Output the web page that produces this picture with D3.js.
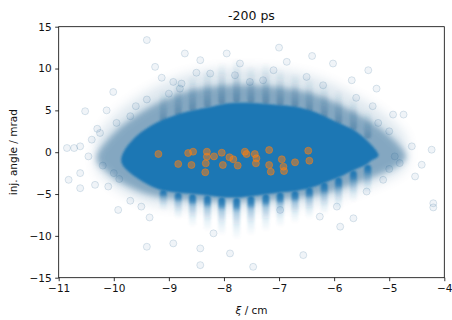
<!DOCTYPE html>
<html><head><meta charset="utf-8">
<script src="https://cdn.jsdelivr.net/npm/d3@7"></script>
<style>
body{margin:0;background:#fff}
svg{display:block}
text{font-family:"DejaVu Sans",sans-serif;fill:#111}
</style>
</head><body>
<svg id="chart" width="452" height="320"></svg>
<script>
// ---------- data ----------
const titleText = "-200 ps";
const xLabel = "ξ / cm";
const yLabel = "inj. angle / mrad";
const xTicks = [-11, -10, -9, -8, -7, -6, -5, -4];
const yTicks = [-15, -10, -5, 0, 5, 10, 15];

// saturated (fully overlapped) region of the blue scatter
const coreXi     = [-9.86, -9.8, -9.68, -9.5, -9.2, -8.9, -8.55, -8.25, -7.98, -7.7, -7.3, -6.95, -6.67, -6.35, -6.08, -5.85, -5.66, -5.45, -5.3, -5.2];
const coreTop    = [-0.6, 0.3, 1.3, 2.4, 3.6, 4.4, 5.0, 5.4, 5.8, 5.9, 5.8, 5.6, 5.4, 4.8, 4.0, 3.3, 2.7, 1.7, 0.7, -0.2];
const coreBottom = [-1.2, -1.9, -2.6, -3.4, -4.4, -4.8, -5.0, -5.2, -5.4, -5.4, -5.1, -4.8, -4.6, -4.1, -3.4, -2.8, -2.2, -1.6, -0.9, -0.5];

// semi-dense halo of the blue scatter
const haloXi     = [-10.3, -10.15, -9.95, -9.7, -9.4, -9.1, -8.8, -8.45, -7.85, -7.25, -6.65, -6.3, -6.0, -5.7, -5.4, -5.15, -4.95, -4.8, -4.7];
const haloTop    = [-0.2, 1.2, 2.6, 3.9, 5.2, 6.2, 7.0, 7.6, 8.0, 7.9, 7.4, 6.8, 6.0, 5.0, 3.9, 2.8, 1.7, 0.7, -0.3];
const haloBottom = [-1.2, -2.2, -3.3, -4.2, -5.0, -5.4, -5.6, -5.8, -5.9, -5.7, -5.4, -5.1, -4.6, -3.9, -3.2, -2.6, -2.0, -1.4, -0.8];

// vertical streaks (columns of ξ) above and below the dense core
const streakXi       = [-9.10, -8.83, -8.57, -8.30, -8.04, -7.77, -7.51, -7.24, -6.98, -6.71, -6.45, -6.18, -5.92, -5.65, -5.39];
const streakLowStart = [-4.5, -4.8, -5.0, -5.15, -5.35, -5.4, -5.2, -5.0, -4.8, -4.6, -4.2, -3.6, -3.0, -2.2, -1.5];
const streakLowEnd   = [-7.0, -8.0, -9.0, -9.5, -10.0, -10.5, -10.0, -9.5, -9.0, -8.5, -8.0, -7.5, -7.0, -6.0, -5.0];
const streakUpStart  = [3.5, 4.3, 4.9, 5.3, 5.7, 5.9, 5.8, 5.7, 5.5, 5.3, 4.7, 4.0, 3.3, 2.6, 1.6];
const streakUpEnd    = [7.5, 8.8, 9.3, 10.0, 10.8, 11.2, 10.4, 10.8, 10.0, 9.5, 9.0, 8.2, 7.5, 6.5, 5.0];

// individually visible faint blue points in the outskirts
const sparseXi    = [-9.25, -9.13, -8.92, -8.77, -10.01, -10.52, -10.13, -9.95, -10.25, -10.61, -10.85, -10.72, -10.46, -10.61, -10.82, -10.61, -10.34, -10.10, -9.92,
                     -7.95, -7.71, -7.53, -7.29, -6.86, -6.02, -5.68, -5.38, -5.23, -8.25, -8.43, -9.40, -8.71, -7.0, -6.4,
                     -4.93, -4.74, -4.59, -4.23, -4.41, -4.53, -4.81, -5.11, -5.41, -5.65, -5.89, -5.95, -4.20, -4.20,
                     -9.40, -8.92, -8.43, -8.43, -8.19, -7.89, -7.47, -6.98, -6.56, -6.26, -9.7, -9.5, -9.35,
                     -9.6, -9.4, -9.7, -10.3, -10.4, -10.2, -10.0, -9.9, -5.0, -5.2, -4.9, -5.0, -5.3, -5.6, -6.2, -6.5, -7.1, -7.8, -8.5, -8.8, -9.0];
const sparseAngle = [10.2, 8.9, 8.4, 8.2, 7.2, 4.9, 5.0, 3.5, 2.3, 0.7, 0.5, 0.5, -0.5, -2.5, -3.3, -4.3, -3.9, -4.1, -6.9,
                     11.8, 10.6, 8.4, 8.6, 10.8, 10.6, 8.6, 9.8, 7.6, 9.4, 11.0, 13.4, 11.8, 12.5, 11.5,
                     4.5, 4.5, 0.7, 0.3, -1.5, -2.9, -1.3, -3.3, -4.7, -7.9, -8.9, -6.5, -6.1, -6.6,
                     -11.3, -10.9, -13.5, -11.5, -9.7, -12.1, -13.7, -6.9, -12.3, -7.7, -5.8, -6.5, -7.8,
                     5.5, 6.3, 4.3, 2.8, 1.5, -1.6, -2.5, -3.2, 2.5, 3.5, -0.5, -2.0, 5.5, 6.5, 8.0, 9.0, 9.8, 9.2, 9.5, 7.6, 7.0];

// orange (injected) points
const injXi    = [-9.19, -8.83, -8.59, -8.56, -8.31, -8.31, -8.33, -8.34, -8.04, -8.02, -7.83, -7.62, -7.59, -7.44, -7.41, -7.42, -7.18, -7.15, -7.18,
                  -6.95, -6.92, -6.91, -6.71, -6.47, -6.45, -8.18, -7.90, -7.75, -8.65];
const injAngle = [-0.22, -1.41, -1.53, 0.06, 0.06, -0.54, -1.33, -2.40, -0.06, -1.53, -0.85, 0.06, -0.22, -0.22, -0.73, -1.33, -1.53, -2.33, 0.26,
                  -0.85, -1.73, -2.25, -1.21, 0.18, -1.02, -0.5, -0.6, -1.6, -0.1];

// ---------- drawing ----------
const blue = "#1f77b4", haze = "#2f6a96", orange = "#ff7f0e";
const svg = d3.select("#chart");
const L = 58.7, R = 444.3, T = 26.7, B = 277.7;
const x = d3.scaleLinear().domain([-11, -4]).range([L, R]);
const y = d3.scaleLinear().domain([-15, 15]).range([B, T]);
const fmt = d => d < 0 ? "\u2212" + Math.abs(d) : String(d);

const defs = svg.append("defs");
defs.append("clipPath").attr("id", "clip").append("rect")
  .attr("x", L).attr("y", T).attr("width", R - L).attr("height", B - T);
[["b1", 0.8], ["b2", 1.5], ["b3", 3], ["b6", 6]].forEach(([id, s]) => {
  defs.append("filter").attr("id", id).attr("x", "-30%").attr("y", "-30%").attr("width", "160%").attr("height", "160%")
    .append("feGaussianBlur").attr("stdDeviation", s);
});
const gDown = defs.append("linearGradient").attr("id", "gDown").attr("x1", 0).attr("y1", 0).attr("x2", 0).attr("y2", 1);
[[0, 1], [0.2, 0.85], [0.35, 0.35], [0.7, 0.1], [1, 0]].forEach(([o, a]) =>
  gDown.append("stop").attr("offset", o).attr("stop-color", blue).attr("stop-opacity", a));
const gUp = defs.append("linearGradient").attr("id", "gUp").attr("x1", 0).attr("y1", 1).attr("x2", 0).attr("y2", 0);
[[0, 0.45], [0.3, 0.25], [0.7, 0.08], [1, 0]].forEach(([o, a]) =>
  gUp.append("stop").attr("offset", o).attr("stop-color", haze).attr("stop-opacity", a));

const plot = svg.append("g").attr("clip-path", "url(#clip)");

function envelope(xs, tops, bots) {
  const pts = xs.map((v, i) => [x(v), y(tops[i])]);
  for (let i = xs.length - 1; i >= 0; i--) pts.push([x(xs[i]), y(bots[i])]);
  return d3.line().curve(d3.curveCatmullRomClosed.alpha(0.5))(pts);
}

// outer faint fringe
plot.append("path").attr("d", envelope(haloXi, haloTop.map(v => v + 2.0), haloBottom.map(v => v - 1.0)))
  .attr("fill", haze).attr("opacity", 0.16).attr("filter", "url(#b6)");
// halo
plot.append("path").attr("d", envelope(haloXi, haloTop, haloBottom))
  .attr("fill", haze).attr("opacity", 0.5).attr("filter", "url(#b3)");

// streaks
const sw = 7;
plot.selectAll("rect.up").data(streakXi).join("rect").attr("class", "up")
  .attr("x", d => x(d) - sw / 2).attr("width", sw)
  .attr("y", (d, i) => y(streakUpEnd[i]))
  .attr("height", (d, i) => y(streakUpStart[i]) - y(streakUpEnd[i]))
  .attr("rx", 3.5).attr("fill", "url(#gUp)").attr("filter", "url(#b1)");

// sparse faint points
plot.selectAll("circle.sp").data(sparseXi).join("circle").attr("class", "sp")
  .attr("cx", d => x(d)).attr("cy", (d, i) => y(sparseAngle[i])).attr("r", 3.5)
  .attr("fill", haze).attr("fill-opacity", 0.07)
  .attr("stroke", haze).attr("stroke-opacity", 0.17).attr("stroke-width", 1);

// saturated core
plot.append("path").attr("d", envelope(coreXi, coreTop, coreBottom))
  .attr("fill", blue).attr("filter", "url(#b1)");

plot.selectAll("rect.low").data(streakXi).join("rect").attr("class", "low")
  .attr("x", d => x(d) - sw / 2).attr("width", sw)
  .attr("y", (d, i) => y(streakLowStart[i]))
  .attr("height", (d, i) => y(streakLowEnd[i]) - y(streakLowStart[i]))
  .attr("rx", 3.5).attr("fill", "url(#gDown)").attr("filter", "url(#b1)");

// orange points
plot.selectAll("circle.inj").data(injXi).join("circle").attr("class", "inj")
  .attr("cx", d => x(d)).attr("cy", (d, i) => y(injAngle[i])).attr("r", 3.5)
  .attr("fill", orange).attr("fill-opacity", 0.5)
  .attr("stroke", orange).attr("stroke-opacity", 0.5).attr("stroke-width", 1);

// axes
const xa = svg.append("g").attr("transform", `translate(0,${B})`)
  .call(d3.axisBottom(x).tickValues(xTicks).tickSize(3.5).tickPadding(3.5).tickFormat(fmt));
const ya = svg.append("g").attr("transform", `translate(${L},0)`)
  .call(d3.axisLeft(y).tickValues(yTicks).tickSize(3.5).tickPadding(3.5).tickFormat(fmt));
[xa, ya].forEach(a => {
  a.select(".domain").remove();
  a.selectAll("line").attr("stroke", "#000").attr("stroke-width", 0.8);
  a.selectAll("text").attr("font-size", 10.5).attr("font-family", "DejaVu Sans").attr("fill", "#111");
});
svg.append("rect").attr("x", L).attr("y", T).attr("width", R - L).attr("height", B - T)
  .attr("fill", "none").attr("stroke", "#000").attr("stroke-width", 0.8);

// title and labels
svg.append("text").attr("x", (L + R) / 2).attr("y", 19.5).attr("text-anchor", "middle")
  .attr("font-size", 12.5).text(titleText);
const xl = svg.append("text").attr("x", (L + R) / 2).attr("y", 314).attr("text-anchor", "middle").attr("font-size", 10.5);
xl.append("tspan").attr("font-style", "italic").text(xLabel.slice(0, 1));
xl.append("tspan").text(xLabel.slice(1));
svg.append("text").attr("transform", `translate(17,${(T + B) / 2}) rotate(-90)`)
  .attr("text-anchor", "middle").attr("font-size", 10.5).text(yLabel);
</script>
</body></html>
